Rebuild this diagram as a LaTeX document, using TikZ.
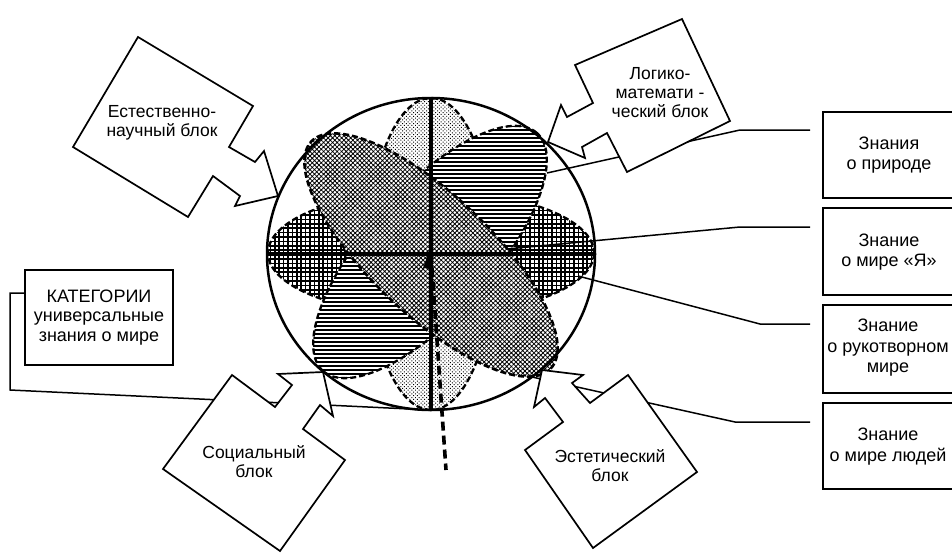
\documentclass[tikz,border=0pt]{standalone}
\usepackage{fontspec}
\setmainfont{Liberation Sans}
\usetikzlibrary{patterns.meta,shapes.geometric}
\begin{document}
\begin{tikzpicture}[x=1pt,y=-1pt,
  every node/.style={inner sep=0pt, outer sep=0pt},
  conn/.style={line width=1.5pt},
  callout/.style={draw, line width=1.7pt, fill=white, line join=miter},
  ctext/.style={font=\fontsize{17.5}{19}\selectfont, align=center},
  rbox/.style={draw, line width=1.8pt, fill=white, minimum width=150pt, anchor=west},
  rtext/.style={font=\fontsize{18}{20.5}\selectfont, align=center},
  outl/.style={line width=2.3pt, dash pattern=on 6pt off 3pt},
]
\useasboundingbox (0,0) rectangle (952,552);
\clip (0,0) rectangle (952,552);

% vertical light stipple ellipse
\path[preaction={fill=white}, pattern={Dots[distance=2.6pt, radius=0.7pt, angle=45]}] (431,254) ellipse [x radius=63, y radius=156];
\draw[outl] (431,254) ellipse [x radius=63, y radius=156];
% horizontal grid ellipse
\begin{scope}
  \clip (431,253) ellipse [x radius=163, y radius=62];
  \fill[white] (260,185) rectangle (600,320);
  \foreach \yy in {188.6,193,...,320} \draw[line width=1.6pt] (260,\yy) -- (600,\yy);
  \foreach \xx in {266,270.4,...,600} \draw[line width=1.6pt] (\xx,185) -- (\xx,320);
\end{scope}
\draw[outl] (431,253) ellipse [x radius=163, y radius=62];
% lined ellipse (rising to the right)
\begin{scope}
  \clip plot[domain=0:360, samples=145, variable=\t] ({430+160*cos(\t)*cos(48)-63*sin(\t)*sin(48)},{252-160*cos(\t)*sin(48)-63*sin(\t)*cos(48)}) -- cycle;
  \fill[white] (280,90) rectangle (580,420);
  \foreach \yy in {90,94,...,420} \draw[line width=1.6pt] (280,\yy) -- (580,\yy);
\end{scope}
\draw[outl]
  plot[domain=0:360, samples=145, variable=\t] ({430+160*cos(\t)*cos(48)-63*sin(\t)*sin(48)},{252-160*cos(\t)*sin(48)-63*sin(\t)*cos(48)}) -- cycle;
% dense stipple ellipse (falling to the right)
\path[preaction={fill=white}, pattern={Hatch[angle=45, distance=3.2pt, line width=0.8pt]}]
  plot[domain=0:360, samples=145, variable=\t] ({431+165*cos(\t)*cos(-43.5)-60*sin(\t)*sin(-43.5)},{255-165*cos(\t)*sin(-43.5)-60*sin(\t)*cos(-43.5)}) -- cycle;
\draw[outl, line width=2.6pt]
  plot[domain=0:360, samples=145, variable=\t] ({431+165*cos(\t)*cos(-43.5)-60*sin(\t)*sin(-43.5)},{255-165*cos(\t)*sin(-43.5)-60*sin(\t)*cos(-43.5)}) -- cycle;

% circle
\node[draw, ellipse, line width=2.5pt, minimum width=328pt, minimum height=312pt] (circ) at (431,254) {};
\draw[line width=3.6pt] (circ.west) -- (circ.east);
\draw[line width=3.6pt] (circ.north) -- (circ.south);
\coordinate (dashend) at (446,470);
\draw[line width=3.6pt, dash pattern=on 9pt off 5pt] (circ.center) -- (dashend);
\fill (428,254) -- (423,268) -- (433,269) -- cycle;

% right boxes
\node[rbox, minimum height=86pt] (b1) at (823,155) {};
\node[rbox, minimum height=87pt] (b2) at (823,251.5) {};
\node[rbox, minimum height=88pt] (b3) at (823,349) {};
\node[rbox, minimum height=86pt] (b4) at (823,446) {};
\node[rtext] (b1t) at (889,155) {Знания\\о природе};
\node[rtext] (b2t) at (889,252) {Знание\\о мире «Я»};
\node[rtext] (b3t) at (888,348) {Знание\\о рукотворном\\мире};
\node[rtext] (b4t) at (888,446.5) {Знание\\о мире людей};

% connectors to right boxes
\coordinate (p1) at (547,173); \coordinate (q1) at (740,130); \coordinate (e1) at (810,130);
\coordinate (p2) at (507,249); \coordinate (q2) at (740,227); \coordinate (e2) at (810,227);
\coordinate (p3) at (578,276); \coordinate (q3) at (760,324); \coordinate (e3) at (810,324);
\coordinate (p4) at (532,377); \coordinate (q4) at (735,422); \coordinate (e4) at (810,422);
\draw[conn] (p1) -- (q1) -- (e1);
\draw[conn] (p2) -- (q2) -- (e2);
\draw[conn] (p3) -- (q3) -- (e3);
\draw[conn] (p4) -- (q4) -- (e4);

% categories box and its connector
\node[draw, line width=1.8pt, fill=white, minimum width=148pt, minimum height=95pt, font=\fontsize{18}{19.5}\selectfont, align=center] (kat) at (99,317.5) {КАТЕГОРИИ\\универсальные\\знания о мире};
\coordinate (k0) at (25,293); \coordinate (k1) at (10,293); \coordinate (k2) at (10,390);
\draw[conn] (k0) -- (k1) -- (k2) -- (circ.south);

% callouts
\draw[callout] (138,37) -- (253,106) -- (229,147) -- (255,162) -- (264,151) -- (278,196) -- (235,206) -- (240,196) -- (213,176) -- (188,217) -- (73,147) -- cycle;
\node[ctext] (t1) at (162,123) {Естественно-\\научный блок};

\draw[callout] (682,19) -- (730,121) -- (627,172) -- (607,133) -- (582,147) -- (585,158) -- (548,142) -- (561,105) -- (567,117) -- (593,103) -- (575,65) -- cycle;
\node[ctext] (t2) at (660,93) {Логико-\\математи -\\ческий блок};

\draw[callout] (232,375) -- (275,407) -- (292,385) -- (278,374) -- (323,372) -- (333,416) -- (320,405) -- (303,429) -- (345,460) -- (280,551) -- (163,469) -- cycle;
\node[ctext] (t3) at (254,462) {Социальный\\блок};

\draw[callout] (628,375) -- (697,472) -- (593,548) -- (525,450) -- (563,422) -- (545,398) -- (534,407) -- (542,370) -- (583,375) -- (572,383) -- (590,403) -- cycle;
\node[ctext] (t4) at (610,466) {Эстетический\\блок};
\end{tikzpicture}
\end{document}
